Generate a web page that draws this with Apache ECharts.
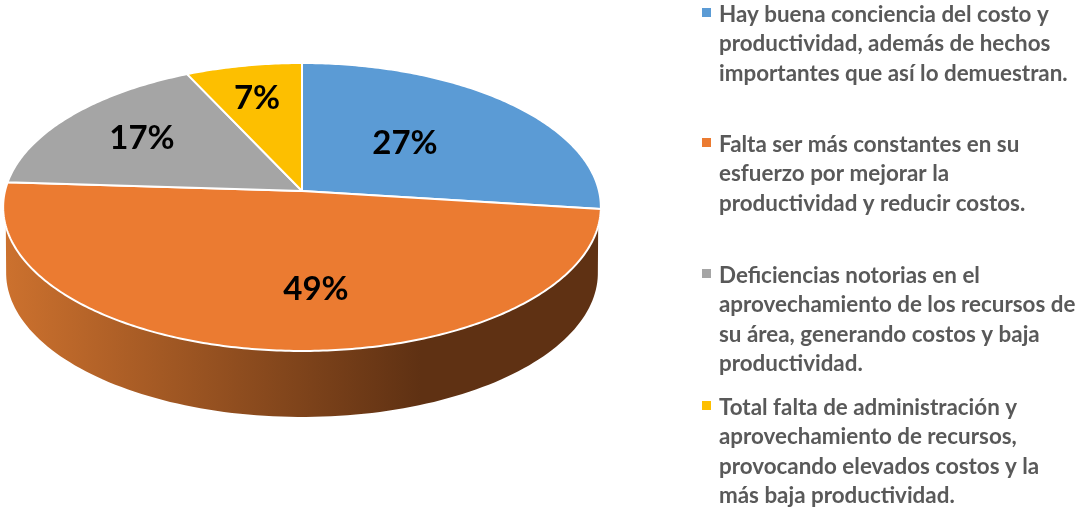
<!DOCTYPE html>
<html>
<head>
<meta charset="utf-8">
<script src="https://cdn.jsdelivr.net/npm/echarts@6/dist/echarts.min.js"></script>
<style>html,body{margin:0;padding:0;background:#fff}#c{width:1080px;height:508px}</style>
</head>
<body>
<div id="c"></div>
<script>
const categories = [
  "Hay buena conciencia del costo y\nproductividad, además de hechos\nimportantes que así lo demuestran.",
  "Falta ser más constantes en su\nesfuerzo por mejorar la\nproductividad y reducir costos.",
  "Deficiencias notorias en el\naprovechamiento de los recursos de\nsu área, generando costos y baja\nproductividad.",
  "Total falta de administración y\naprovechamiento de recursos,\nprovocando elevados costos y la\nmás baja productividad."
];
const values = [27, 49, 17, 7];
const colors = ["#5B9BD5", "#EB7B31", "#A5A5A5", "#FDBF00"];
const labelAnchors = [[103, 48], [14, -98], [-160, 53], [-45, 93]];
const legendTops = [0, 130, 261, 393];

const R = 297, A = 142.2, K = 1 / 9;
const TAU = Math.PI * 2;
const total = values.reduce((a, b) => a + b, 0);

// project a fraction of the full turn (clockwise from top) onto the tilted disc
function rim(frac) {
  const t = frac * TAU, u = Math.sin(t), v = Math.cos(t), w = 1 + K * v;
  return [R * u / w, A * v / w];
}
function arc(from, to, step) {
  const pts = [], n = Math.ceil(Math.abs(to - from) / step);
  for (let i = 0; i <= n; i++) pts.push(rim(from + (to - from) * i / n));
  return pts;
}

const sliceData = values.map((v, i) => {
  const start = values.slice(0, i).reduce((a, b) => a + b, 0) / total;
  return { value: [start, start + v / total, v, i], name: categories[i] };
});

function renderWall(params, api) {
  const top = arc(0.2887, 0.7113, 0.004).map(p => api.coord(p));
  const bottom = arc(0.73, 0.27, 0.004).map(p => api.coord([p[0] * 0.99, p[1] - 66]));
  return {
    type: 'polygon',
    shape: { points: top.concat(bottom) },
    style: {
      fill: new echarts.graphic.LinearGradient(0, 0, 1, 0, [
        { offset: 0, color: '#CC712E' },
        { offset: 0.7, color: '#5F3113' },
        { offset: 1, color: '#5F3113' }
      ])
    }
  };
}

function renderSlice(params, api) {
  const from = api.value(0), to = api.value(1), val = api.value(2), i = api.value(3);
  const pts = [api.coord([0, 0])].concat(arc(from, to, 0.002).map(p => api.coord(p)));
  const anchor = api.coord(labelAnchors[i]);
  return {
    type: 'group',
    children: [
      {
        type: 'polygon',
        shape: { points: pts },
        style: { fill: colors[i], stroke: '#fff', lineWidth: 2, lineJoin: 'round' }
      },
      {
        type: 'text',
        z2: 10,
        style: {
          x: anchor[0], y: anchor[1],
          text: val + '%',
          fill: '#000',
          font: 'bold 33px Lato',
          align: 'center',
          verticalAlign: 'middle'
        }
      }
    ]
  };
}

const legendGraphics = [];
categories.forEach((name, i) => {
  legendGraphics.push({
    type: 'rect', left: 702, top: legendTops[i] + 8,
    shape: { width: 9, height: 9 },
    style: { fill: colors[i] }
  });
  legendGraphics.push({
    type: 'text', left: 719, top: legendTops[i],
    style: {
      text: name, fill: '#595959',
      font: 'bold 22.4px Lato', lineHeight: 29.5
    }
  });
});

const chart = echarts.init(document.getElementById('c'), null, { renderer: 'canvas' });
chart.setOption({
  animation: false,
  backgroundColor: '#fff',
  grid: { left: 3, top: 63, width: 598, height: 354 },
  xAxis: { type: 'value', min: -299, max: 299, show: false },
  yAxis: { type: 'value', min: -226, max: 128, show: false },
  graphic: legendGraphics,
  series: [
    { type: 'custom', name: 'wall', clip: false, silent: true, z: 1, data: [[0, 0]], renderItem: renderWall },
    { type: 'custom', name: 'slices', clip: false, z: 2, data: sliceData, renderItem: renderSlice }
  ]
});
</script>
</body>
</html>
